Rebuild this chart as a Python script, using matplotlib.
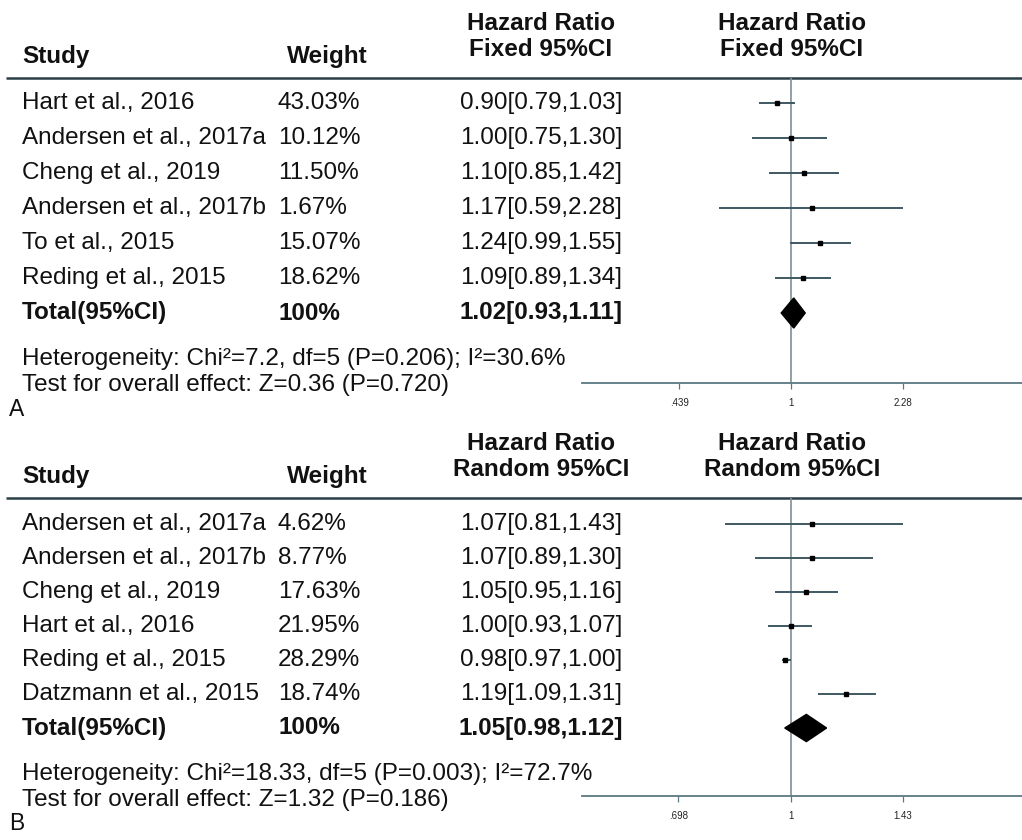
import numpy as np
import matplotlib
matplotlib.use("Agg")
import matplotlib.pyplot as plt

plt.rcParams['font.family'] = ['Liberation Sans', 'DejaVu Sans']

# panel A data (fixed effect)
a_studies = ["Hart et al., 2016", "Andersen et al., 2017a", "Cheng et al., 2019",
             "Andersen et al., 2017b", "To et al., 2015", "Reding et al., 2015"]
a_weights = ["43.03%", "10.12%", "11.50%", "1.67%", "15.07%", "18.62%"]
a_hr = [0.90, 1.00, 1.10, 1.17, 1.24, 1.09]
a_lo = [0.79, 0.75, 0.85, 0.59, 0.99, 0.89]
a_hi = [1.03, 1.30, 1.42, 2.28, 1.55, 1.34]
a_total = [1.02, 0.93, 1.11]
a_ticks = [0.439, 1, 2.28]
a_ticklabels = [".439", "1", "2.28"]
a_het = "Heterogeneity: Chi²=7.2, df=5 (P=0.206); I²=30.6%"
a_test = "Test for overall effect: Z=0.36 (P=0.720)"

# panel B data (random effect)
b_studies = ["Andersen et al., 2017a", "Andersen et al., 2017b", "Cheng et al., 2019",
             "Hart et al., 2016", "Reding et al., 2015", "Datzmann et al., 2015"]
b_weights = ["4.62%", "8.77%", "17.63%", "21.95%", "28.29%", "18.74%"]
b_hr = [1.07, 1.07, 1.05, 1.00, 0.98, 1.19]
b_lo = [0.81, 0.89, 0.95, 0.93, 0.97, 1.09]
b_hi = [1.43, 1.30, 1.16, 1.07, 1.00, 1.31]
b_total = [1.05, 0.98, 1.12]
b_ticks = [0.698, 1, 1.43]
b_ticklabels = [".698", "1", "1.43"]
b_het = "Heterogeneity: Chi²=18.33, df=5 (P=0.003); I²=72.7%"
b_test = "Test for overall effect: Z=1.32 (P=0.186)"

W, H = 1022, 840
fig = plt.figure(figsize=(W / 100, H / 100), dpi=100)

# overlay axes in pixel units for the text table
tx = fig.add_axes([0, 0, 1, 1])
tx.set_xlim(0, W)
tx.set_ylim(H, 0)
tx.axis('off')

FS = 17.5
TXT = '#111111'
LINE = '#3e5862'


def draw_panel(top, row0, step, bottom, xlim, method, studies, weights, hr, lo, hi, total,
               ticks, ticklabels, het, test, letter, dh):
    # header
    tx.text(541, top - 54, "Hazard Ratio", ha='center', va='center', fontsize=FS, fontweight='bold', color=TXT)
    tx.text(541, top - 29, method + " 95%CI", ha='center', va='center', fontsize=FS, fontweight='bold', color=TXT)
    tx.text(792, top - 54, "Hazard Ratio", ha='center', va='center', fontsize=FS, fontweight='bold', color=TXT)
    tx.text(792, top - 29, method + " 95%CI", ha='center', va='center', fontsize=FS, fontweight='bold', color=TXT)
    tx.text(22, top - 21, "Study", ha='left', va='center', fontsize=FS, fontweight='bold', color=TXT)
    tx.text(327, top - 21, "Weight", ha='center', va='center', fontsize=FS, fontweight='bold', color=TXT)
    tx.plot([6, W], [top, top], color='#2a3e46', lw=1.8, solid_capstyle='butt')

    # rows of text
    for i in range(len(studies)):
        y = row0 + step * i
        tx.text(22, y, studies[i], ha='left', va='center', fontsize=FS, color=TXT)
        tx.text(278, y, weights[i], ha='left', va='center', fontsize=FS, color=TXT)
        tx.text(541, y, f"{hr[i]:.2f}[{lo[i]:.2f},{hi[i]:.2f}]", ha='center', va='center',
                fontsize=FS, color=TXT)
    yt = row0 + step * len(studies)
    tx.text(22, yt, "Total(95%CI)", ha='left', va='center', fontsize=FS, fontweight='bold', color=TXT)
    tx.text(278, yt, "100%", ha='left', va='center', fontsize=FS, fontweight='bold', color=TXT)
    tx.text(541, yt, f"{total[0]:.2f}[{total[1]:.2f},{total[2]:.2f}]", ha='center', va='center',
            fontsize=FS, fontweight='bold', color=TXT)
    tx.text(22, yt + 46, het, ha='left', va='center', fontsize=FS, color=TXT)
    tx.text(22, yt + 72, test, ha='left', va='center', fontsize=FS, color=TXT)
    tx.text(9, yt + 96, letter, ha='left', va='center', fontsize=FS - 1, color=TXT)

    # forest plot
    ax = fig.add_axes([582 / W, 1 - bottom / H, (W - 582) / W, (bottom - top) / H])
    ax.set_xscale('log')
    ax.set_xlim(*xlim)
    n = len(studies)
    rows = np.arange(n)
    ax.set_ylim((bottom - row0) / step, (top - row0) / step)
    ax.axvline(1, color='#7f9097', lw=1.2, zorder=1)
    ax.hlines(rows, lo, hi, color=LINE, lw=1.4, zorder=2)
    ax.plot(hr, rows, 's', color='black', ms=2.8, zorder=3)
    est, tlo, thi = total
    ax.fill([tlo, est, thi, est], [n, n - dh, n, n + dh], color='black', zorder=3)
    for s in ['top', 'left', 'right']:
        ax.spines[s].set_visible(False)
    ax.spines['bottom'].set_color('#5c7882')
    ax.spines['bottom'].set_linewidth(1.3)
    ax.set_yticks([])
    ax.xaxis.set_minor_locator(matplotlib.ticker.NullLocator())
    ax.set_xticks(ticks)
    ax.set_xticklabels(ticklabels)
    ax.tick_params(axis='x', length=4, width=0.9, color='#5c7882', labelsize=7, pad=6.5,
                   labelcolor='#222222')
    ax.patch.set_alpha(0)
    return ax


draw_panel(78, 103, 35, 383, (0.2148, 5.47), "Fixed", a_studies, a_weights, a_hr, a_lo, a_hi,
           a_total, a_ticks, a_ticklabels, a_het, a_test, "A", 0.43)
draw_panel(498, 524, 34, 796, (0.513, 2.09), "Random", b_studies, b_weights, b_hr, b_lo, b_hi,
           b_total, b_ticks, b_ticklabels, b_het, b_test, "B", 0.4)

fig.savefig("out.png", dpi=100)
